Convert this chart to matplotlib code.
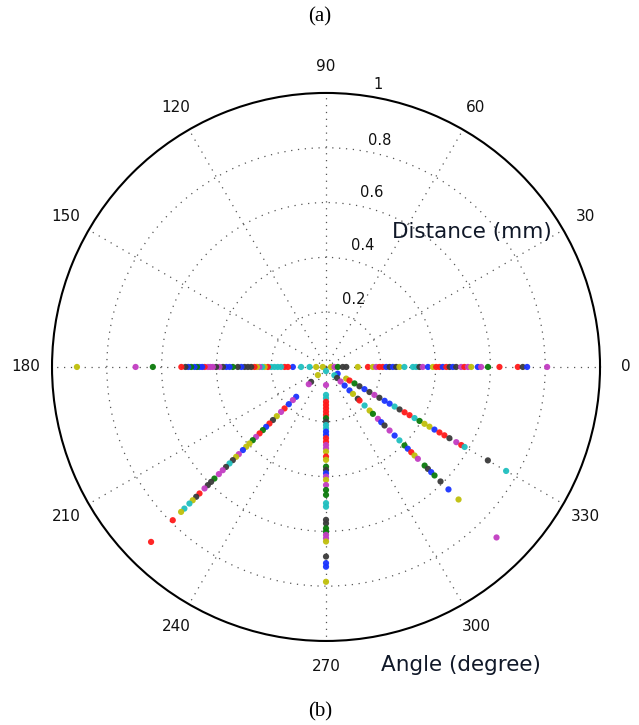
import numpy as np
import matplotlib.pyplot as plt

# radial distance (mm) of each detected point, grouped by ray angle (deg)
r_000 = [0.018, 0.031, 0.043, 0.061, 0.074, 0.116, 0.153, 0.171, 0.183, 0.195,
         0.207, 0.220, 0.232, 0.244, 0.256, 0.268, 0.286, 0.317, 0.329, 0.341,
         0.353, 0.372, 0.390, 0.402, 0.414, 0.426, 0.439, 0.451, 0.463, 0.475,
         0.493, 0.505, 0.518, 0.530, 0.554, 0.566, 0.591, 0.633, 0.700, 0.718,
         0.734, 0.807]
c_000 = "ymgkkyrymrrbkbkyccckmbyrrbrkbkmrmybmgrrkbm"

r_180 = [0.012, 0.036, 0.060, 0.091, 0.121, 0.139, 0.151, 0.164, 0.176, 0.188,
         0.200, 0.212, 0.224, 0.233, 0.243, 0.252, 0.261, 0.273, 0.285, 0.297,
         0.309, 0.322, 0.340, 0.352, 0.364, 0.376, 0.389, 0.401, 0.413, 0.422,
         0.431, 0.443, 0.452, 0.462, 0.471, 0.480, 0.492, 0.503, 0.513, 0.528,
         0.632, 0.695, 0.909]
c_180 = "yyccbrrccccrycmyrkkkbkgbbkmkmmmrbbgbgbkrgmy"

r_270 = [0.015, 0.066, 0.102, 0.114, 0.127, 0.139, 0.151, 0.163, 0.175, 0.187,
         0.199, 0.212, 0.224, 0.236, 0.248, 0.260, 0.273, 0.285, 0.297, 0.309,
         0.327, 0.339, 0.364, 0.376, 0.388, 0.400, 0.412, 0.431, 0.449, 0.467,
         0.497, 0.510, 0.558, 0.571, 0.589, 0.601, 0.613, 0.625, 0.637, 0.692,
         0.716, 0.729, 0.784]
c_270 = "cmccrrrrrgkccbbrrmmyrygkbmymggcckkggmmykbby"

r_330 = [0.049, 0.085, 0.099, 0.120, 0.141, 0.162, 0.183, 0.204, 0.225, 0.247,
         0.268, 0.289, 0.310, 0.331, 0.352, 0.373, 0.394, 0.415, 0.436, 0.457,
         0.478, 0.499, 0.520, 0.549, 0.570, 0.584, 0.682, 0.759]
c_330 = "byrgkbkmkbbckrrcgyybrrkmrckc"

r_315 = [0.043, 0.057, 0.075, 0.096, 0.121, 0.139, 0.164, 0.173, 0.199, 0.225,
         0.242, 0.268, 0.285, 0.302, 0.328, 0.354, 0.379, 0.405, 0.422, 0.440,
         0.457, 0.474, 0.509, 0.526, 0.543, 0.560, 0.591, 0.632, 0.684, 0.880]
c_315 = "ckmbbykrcygmbkmbcgbrymgkbgkbym"

r_225 = [0.042, 0.077, 0.089, 0.154, 0.171, 0.192, 0.214, 0.232, 0.254, 0.274,
         0.292, 0.309, 0.326, 0.343, 0.361, 0.378, 0.395, 0.412, 0.429, 0.450,
         0.464, 0.481, 0.498, 0.516, 0.533, 0.553, 0.576, 0.593, 0.610, 0.627,
         0.653, 0.670, 0.688, 0.705, 0.731, 0.748, 0.791, 0.903]
c_225 = "ykmbmbrmykrbgrmgyybmykckmmgkkmrkyccyrr"

rays = [(0, r_000, c_000), (180, r_180, c_180), (270, r_270, c_270),
        (330, r_330, c_330), (315, r_315, c_315), (225, r_225, c_225)]

angle_ticks = [0, 30, 60, 90, 120, 150, 180, 210, 240, 270, 300, 330]
dist_ticks = [0.2, 0.4, 0.6, 0.8, 1]

colors = {'r': '#ff1a1a', 'b': '#1a33ff', 'g': '#0a7a0a', 'k': '#3a3a3a',
          'm': '#c23cc2', 'c': '#1fbfbf', 'y': '#bfbf0a'}

fig = plt.figure(figsize=(6.39, 7.25), dpi=100)
ax = fig.add_axes([0.0814, 0.1159, 0.8576, 0.7559], projection='polar')
ax.set_ylim(0, 1)
ax.set_xticks(np.deg2rad(angle_ticks))
ax.set_yticks(dist_ticks[:-1])
ax.set_xticklabels([])
ax.set_yticklabels([])
ax.tick_params(length=0)
ax.grid(True, color='#555555', linestyle=(0, (1, 4.5)), linewidth=0.9)
ax.spines['polar'].set_linewidth(1.5)
ax.spines['polar'].set_color('black')

for ang, rr, cc in rays:
    th = np.full(len(rr), np.deg2rad(ang))
    ax.scatter(th, rr, s=20, c=[colors[k] for k in cc], edgecolors='none',
               alpha=0.95, zorder=3)

# angle labels outside the circle
for a in angle_ticks:
    ax.text(np.deg2rad(a), 1.095, str(a), ha='center', va='center',
            fontsize=11, color='#111111')

# distance labels along the upper-right spoke
rlab_pos = [(67.3, 0.265), (73.1, 0.465), (75.2, 0.657), (76.6, 0.851),
            (79.6, 1.047)]
for val, (th, r) in zip(dist_ticks, rlab_pos):
    ax.text(np.deg2rad(th), r, '%g' % val, ha='center', va='center',
            fontsize=10.5, color='#111111')

fig.text(0.7387, 0.680, 'Distance (mm)', ha='center', va='center',
         fontsize=15.5, color='#101828')
fig.text(0.7214, 0.0828, 'Angle (degree)', ha='center', va='center',
         fontsize=15.5, color='#101828')
fig.text(0.5008, 0.9766, '(a)', ha='center', va='center',
         fontsize=15, family='Liberation Serif')
fig.text(0.5008, 0.018, '(b)', ha='center', va='center',
         fontsize=15, family='Liberation Serif')

fig.savefig('out.png', dpi=100)
